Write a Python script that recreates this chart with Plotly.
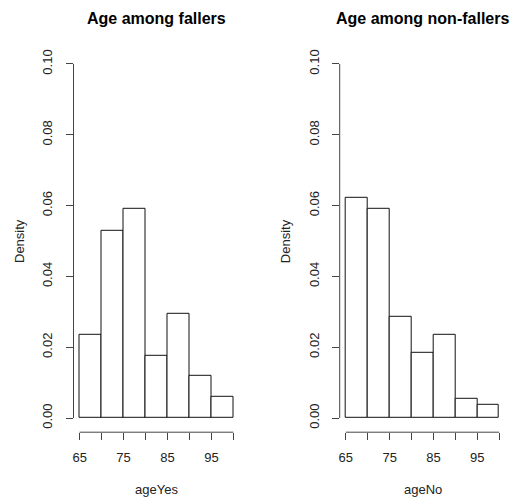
import plotly.graph_objects as go

# ---- data ----
bin_edges = [65, 70, 75, 80, 85, 90, 95, 100]
density_fallers = [0.0235, 0.0530, 0.0590, 0.0176, 0.0295, 0.0118, 0.0059]
density_nonfallers = [0.0623, 0.0590, 0.0287, 0.0184, 0.0235, 0.0053, 0.0036]
x_tickvals = [65, 70, 75, 80, 85, 90, 95, 100]
x_ticktext = ["65", "", "75", "", "85", "", "95", ""]
y_tickvals = [0.00, 0.02, 0.04, 0.06, 0.08, 0.10]
y_ticktext = ["0.00", "0.02", "0.04", "0.06", "0.08", "0.10"]
titles = ["Age among fallers", "Age among non-fallers"]
xlabels = ["ageYes", "ageNo"]

W, H = 509, 500
FONT = "Liberation Sans, Arial, sans-serif"
TXT = "#222222"
AX = "#444444"

centers = [(a + b) / 2 for a, b in zip(bin_edges[:-1], bin_edges[1:])]
widths = [b - a for a, b in zip(bin_edges[:-1], bin_edges[1:])]

fig = go.Figure()

panels = [
    dict(dens=density_fallers, xd=[73.5 / W, 239.5 / W]),
    dict(dens=density_nonfallers, xd=[339.7 / W, 505.3 / W]),
]
yd = [1 - 432.2 / H, 1 - 49.8 / H]

for i, p in enumerate(panels):
    xa = "x" if i == 0 else "x2"
    ya = "y" if i == 0 else "y2"
    fig.add_trace(go.Bar(
        x=centers, y=p["dens"], width=widths,
        marker=dict(color="white", line=dict(color="#111111", width=1)),
        xaxis=xa, yaxis=ya, showlegend=False, hoverinfo="skip",
    ))
    sfx = "" if i == 0 else "2"
    fig.layout["xaxis" + sfx] = dict(
        domain=p["xd"], anchor=ya, range=[63.6, 101.4],
        tickmode="array", tickvals=x_tickvals, ticktext=x_ticktext,
        ticks="outside", ticklen=7, tickcolor=AX, tickwidth=1,
        showline=False, showgrid=False, zeroline=False,
        tickfont=dict(family=FONT, size=13, color=TXT),
        ticklabelstandoff=6, fixedrange=True,
    )
    fig.layout["yaxis" + sfx] = dict(
        domain=yd, anchor=xa, range=[-0.004, 0.104],
        tickmode="array", tickvals=y_tickvals, ticktext=y_ticktext,
        ticks="outside", ticklen=7, tickcolor=AX, tickwidth=1,
        showline=False, showgrid=False, zeroline=False, tickangle=-90,
        tickfont=dict(family=FONT, size=13, color=TXT),
        ticklabelstandoff=8, fixedrange=True,
    )
    # partial axis lines (R style), in data coordinates
    fig.add_shape(type="line", xref=xa, yref=ya + " domain",
                  x0=bin_edges[0], x1=bin_edges[-1], y0=0, y1=0,
                  line=dict(color=AX, width=1))
    fig.add_shape(type="line", xref=xa + " domain", yref=ya,
                  x0=0, x1=0, y0=y_tickvals[0], y1=y_tickvals[-1],
                  line=dict(color=AX, width=1))
    cx = (p["xd"][0] + p["xd"][1]) / 2
    fig.add_annotation(text="<b>" + titles[i] + "</b>", xref="paper", yref="paper",
                       x=cx, y=1 - 18 / H, showarrow=False,
                       xanchor="center", yanchor="middle",
                       font=dict(family=FONT, size=16, color="#000000"))
    fig.add_annotation(text=xlabels[i], xref="paper", yref="paper",
                       x=cx, y=1 - 489 / H, showarrow=False,
                       xanchor="center", yanchor="middle",
                       font=dict(family=FONT, size=13, color=TXT))
    fig.add_annotation(text="Density", xref="paper", yref="paper",
                       x=(p["xd"][0] * W - 54.5) / W, y=(yd[0] + yd[1]) / 2,
                       showarrow=False, textangle=-90,
                       xanchor="center", yanchor="middle",
                       font=dict(family=FONT, size=13, color=TXT))

fig.update_layout(
    width=W, height=H, margin=dict(l=0, r=0, t=0, b=0),
    paper_bgcolor="white", plot_bgcolor="white", bargap=0,
)

fig.write_html("out.html", config={"displayModeBar": False},
               post_script="document.body.style.margin='0';")
